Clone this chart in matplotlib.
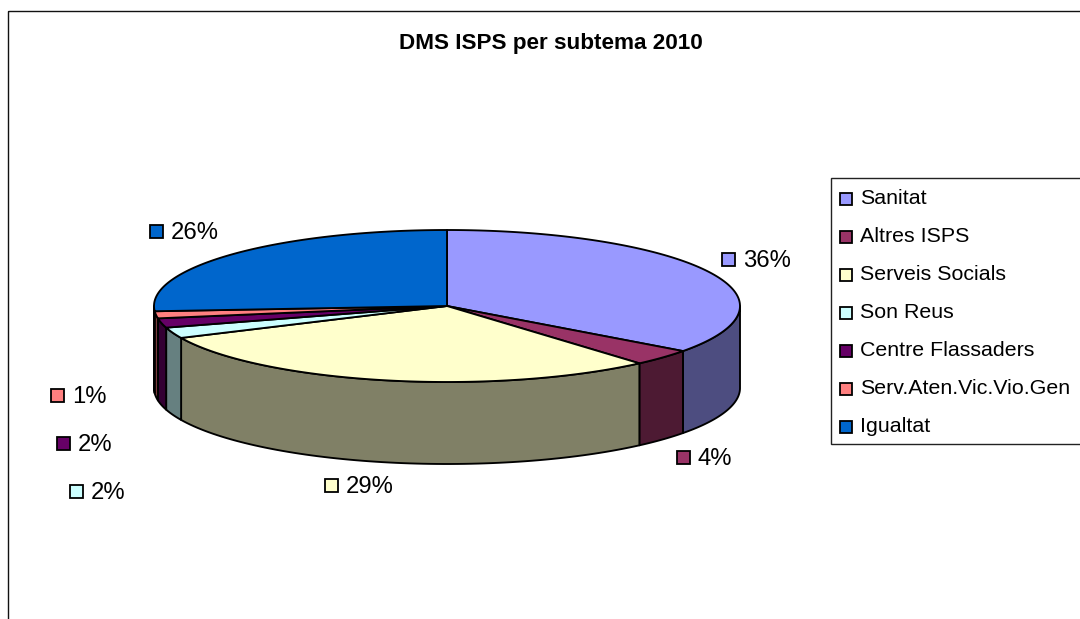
import numpy as np
import matplotlib
matplotlib.use("Agg")
import matplotlib.pyplot as plt
from matplotlib.patches import Polygon, Rectangle

title = "DMS ISPS per subtema 2010"
categories = ["Sanitat", "Altres ISPS", "Serveis Socials", "Son Reus",
              "Centre Flassaders", "Serv.Aten.Vic.Vio.Gen", "Igualtat"]
values = [35.1, 3.5, 29.5, 2.3, 2.0, 1.5, 26.1]
pct_labels = ["36%", "4%", "29%", "2%", "2%", "1%", "26%"]
colors = ["#9999FF", "#993366", "#FFFFCC", "#CCFFFF", "#660066", "#FF8080", "#0066CC"]

# layout (pixel space of the 1080x619 figure)
CX, CY, RX, RY, DEPTH = 447, 306, 293, 76, 82
label_marks = [(728, 259), (683, 457), (331, 485), (76, 491), (63, 443), (57, 395), (156, 231)]
LW = 1.35
FS = 15.4
FONT = "Liberation Sans"

fig = plt.figure(figsize=(10.8, 6.19), dpi=100)
ax = fig.add_axes([0, 0, 1, 1])
ax.set_xlim(0, 1080)
ax.set_ylim(619, 0)
ax.axis("off")

ax.add_patch(Rectangle((8, 11), 1200, 800, fill=False, ec="#111111", lw=1.0))


def pt(deg, dy=0.0):
    """deg: clockwise from the top of the pie."""
    a = np.radians(deg)
    return CX + RX * np.sin(a), CY - RY * np.cos(a) + dy


def dark(c):
    return tuple(0.5 * v for v in matplotlib.colors.to_rgb(c))


bounds = np.cumsum([0] + values) / sum(values) * 360

# side walls, only the front half of the rim is visible
for i, c in enumerate(colors):
    a0, a1 = max(bounds[i], 90), min(bounds[i + 1], 270)
    if a1 <= a0:
        continue
    th = np.linspace(a0, a1, 80)
    x, y = pt(th)
    xs = np.r_[x, x[::-1]]
    ys = np.r_[y, y[::-1] + DEPTH]
    ax.add_patch(Polygon(np.c_[xs, ys], closed=True, fc=dark(c), ec="black",
                         lw=LW, joinstyle="round", zorder=2))

# top faces
for i, c in enumerate(colors):
    th = np.linspace(bounds[i], bounds[i + 1], 120)
    x, y = pt(th)
    ax.add_patch(Polygon(np.c_[np.r_[CX, x], np.r_[CY, y]], closed=True, fc=c,
                         ec="black", lw=LW, joinstyle="round", zorder=3))

ax.text(550.5, 41, title, family=FONT, fontsize=16.2, fontweight="bold",
        ha="center", va="center_baseline", color="black")

# data labels
for (mx, my), lab, c in zip(label_marks, pct_labels, colors):
    ax.add_patch(Rectangle((mx - 6.5, my - 6.5), 13, 13, fc=c, ec="black", lw=1.3, zorder=4))
    ax.text(mx + 15, my - 0.5, lab, family=FONT, fontsize=17.2, ha="left",
            va="center_baseline", color="black")

# legend
ax.add_patch(Rectangle((831, 178), 400, 266, fc="white", ec="#222222", lw=1.0, zorder=1))
for i, (name, c) in enumerate(zip(categories, colors)):
    y = 198 + i * 38
    ax.add_patch(Rectangle((839.5, y - 5.5), 12, 12, fc=c, ec="black", lw=1.3, zorder=4))
    ax.text(860, y - 1, name, family=FONT, fontsize=FS, ha="left",
            va="center_baseline", color="black", zorder=4)

fig.savefig("out.png", dpi=100)
